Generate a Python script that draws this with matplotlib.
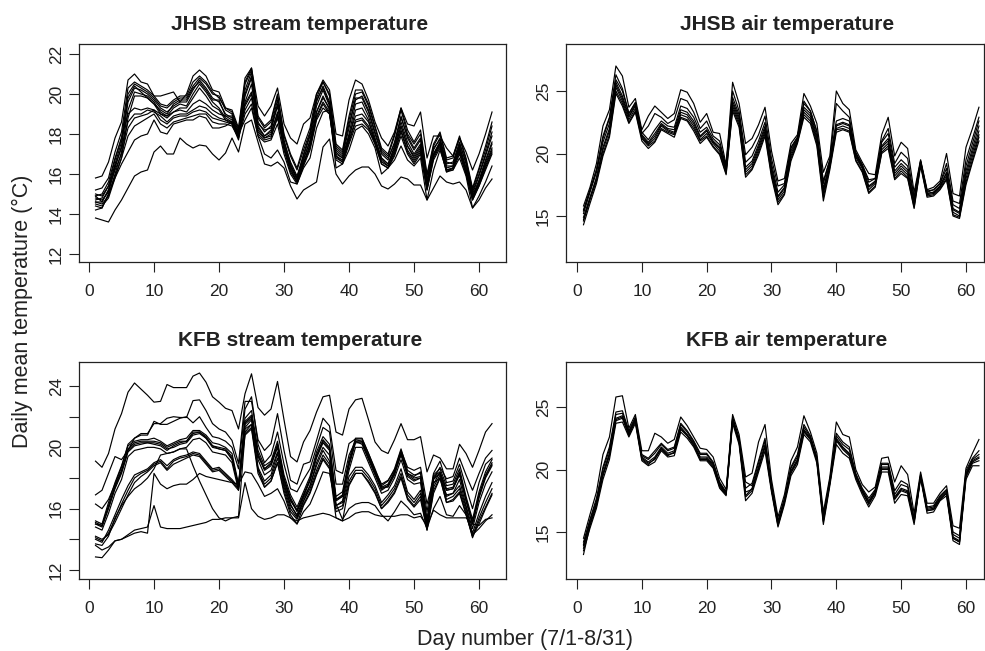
import numpy as np
import matplotlib
matplotlib.use('Agg')
import matplotlib.pyplot as plt

plt.rcParams['font.family'] = ['Liberation Sans', 'DejaVu Sans']

# ---- JHSB stream temperature (one list per site, days 1..62) ----
jhsb_s_top = [15.8, 15.9, 16.6, 17.8, 18.6, 20.7, 21.0, 20.6, 20.5, 19.9,
              19.9, 20.0, 20.1, 19.6, 20.0, 20.9, 21.2, 20.9, 20.2, 20.1,
              19.3, 19.2, 18.3, 20.8, 21.3, 19.4, 18.9, 19.4, 20.3, 18.5,
              17.8, 17.5, 18.5, 18.8, 20.0, 20.7, 20.2, 18.0, 17.9, 19.7,
              20.7, 20.5, 19.7, 18.6, 17.8, 17.4, 18.1, 19.3, 18.5, 18.4,
              19.1, 16.8, 17.9, 17.9, 17.3, 16.9, 17.8, 17.1, 16.2, 17.0,
              18.0, 19.1]
jhsb_s_u0 = [14.8, 14.7, 15.1, 16.3, 17.4, 19.6, 20.3, 20.2, 20.0, 19.7,
             19.3, 19.1, 19.4, 19.6, 19.6, 20.2, 20.7, 20.3, 19.8, 19.6,
             19.0, 18.8, 17.9, 20.2, 21.1, 18.6, 18.1, 18.4, 19.7, 17.6,
             16.6, 15.9, 16.9, 17.9, 19.6, 20.4, 19.6, 17.2, 16.9, 18.3,
             19.8, 19.8, 19.1, 18.0, 17.0, 16.7, 17.6, 18.9, 17.8, 17.2,
             17.7, 15.6, 17.2, 17.8, 16.5, 16.6, 17.6, 16.5, 15.0, 15.9,
             16.9, 17.9]
jhsb_s_u1 = [15.0, 14.9, 15.4, 16.7, 17.8, 20.0, 20.5, 20.3, 20.1, 19.8,
             19.4, 19.3, 19.6, 19.8, 19.8, 20.4, 20.8, 20.5, 20.0, 19.9,
             19.2, 19.0, 18.1, 20.5, 21.2, 18.8, 18.3, 18.6, 19.9, 17.9,
             16.9, 16.2, 17.2, 18.1, 19.8, 20.6, 19.9, 17.4, 17.1, 18.7,
             20.0, 20.1, 19.4, 18.3, 17.2, 16.9, 17.9, 19.2, 18.0, 17.5,
             18.0, 15.9, 17.4, 18.0, 16.7, 16.8, 17.8, 16.7, 15.2, 16.2,
             17.2, 18.4]
jhsb_s_u2 = [14.6, 14.5, 14.9, 16.0, 17.1, 19.2, 20.1, 20.0, 19.9, 19.6,
             19.1, 18.9, 19.3, 19.5, 19.4, 20.0, 20.5, 20.1, 19.6, 19.3,
             18.8, 18.6, 17.8, 19.9, 20.8, 18.4, 17.9, 18.2, 19.4, 17.4,
             16.4, 15.7, 16.7, 17.7, 19.4, 20.2, 19.4, 17.0, 16.8, 18.0,
             19.5, 19.6, 18.9, 17.8, 16.8, 16.5, 17.4, 18.6, 17.6, 17.0,
             17.5, 15.4, 17.0, 17.6, 16.3, 16.4, 17.4, 16.3, 14.9, 15.7,
             16.7, 17.6]
jhsb_s_u3 = [14.9, 14.6, 15.2, 16.5, 17.6, 19.8, 20.4, 20.1, 19.8, 19.5,
             19.2, 19.0, 19.5, 19.7, 19.7, 20.3, 20.6, 20.2, 19.7, 19.7,
             18.9, 18.9, 18.0, 20.0, 20.9, 18.5, 18.2, 18.3, 19.5, 17.7,
             16.5, 15.8, 17.0, 18.0, 19.7, 20.3, 19.5, 17.3, 17.0, 18.5,
             19.7, 19.9, 19.2, 18.1, 17.1, 16.8, 17.5, 18.8, 17.9, 17.3,
             17.8, 15.7, 17.3, 17.7, 16.6, 16.5, 17.5, 16.6, 15.1, 16.0,
             17.0, 18.1]
jhsb_s_u4 = [14.5, 14.4, 14.8, 15.8, 16.8, 18.8, 19.9, 19.9, 19.8, 19.5,
             19.0, 18.8, 19.1, 19.3, 19.3, 19.8, 20.3, 19.9, 19.4, 19.2,
             18.7, 18.5, 17.7, 19.6, 20.5, 18.2, 17.8, 18.0, 19.1, 17.3,
             16.3, 15.6, 16.5, 17.5, 19.1, 19.9, 19.2, 16.9, 16.6, 17.8,
             19.2, 19.3, 18.7, 17.6, 16.7, 16.4, 17.2, 18.4, 17.4, 16.8,
             17.3, 15.3, 16.9, 17.5, 16.2, 16.3, 17.3, 16.2, 14.8, 15.6,
             16.5, 17.3]
jhsb_s_u5 = [15.2, 15.3, 15.8, 17.1, 18.1, 20.3, 20.6, 20.4, 20.2, 19.9,
             19.5, 19.4, 19.7, 19.9, 19.9, 20.6, 20.9, 20.6, 20.1, 19.8,
             19.3, 19.1, 18.2, 20.6, 21.3, 18.9, 18.4, 18.7, 20.0, 18.0,
             17.0, 16.3, 17.4, 18.3, 20.0, 20.6, 20.0, 17.5, 17.2, 18.9,
             20.2, 20.2, 19.5, 18.4, 17.3, 17.0, 18.0, 19.3, 18.2, 17.6,
             18.2, 16.0, 17.5, 18.1, 16.8, 16.9, 17.9, 16.8, 15.3, 16.3,
             17.4, 18.6]
jhsb_s_b1 = [14.7, 14.8, 15.4, 16.4, 17.3, 18.6, 19.0, 19.0, 19.2, 19.1,
             18.9, 18.6, 18.9, 19.0, 19.0, 19.2, 19.4, 19.3, 19.0, 18.8,
             18.7, 18.6, 17.9, 19.2, 19.8, 18.1, 17.8, 17.9, 18.8, 17.3,
             16.2, 15.6, 16.6, 17.4, 18.9, 19.6, 19.1, 16.9, 16.7, 17.7,
             18.7, 18.8, 18.4, 17.6, 16.6, 16.4, 17.1, 18.2, 17.2, 16.7,
             17.2, 15.3, 16.9, 17.5, 16.2, 16.3, 17.2, 16.1, 14.8, 15.5,
             16.4, 17.2]
jhsb_s_b2 = [14.9, 15.0, 15.6, 16.8, 17.8, 19.0, 19.3, 19.2, 19.3, 19.2,
             19.0, 18.9, 19.1, 19.2, 19.1, 19.5, 19.7, 19.5, 19.2, 19.0,
             18.9, 18.7, 18.0, 19.5, 20.1, 18.3, 17.9, 18.1, 19.0, 17.5,
             16.4, 15.8, 16.8, 17.6, 19.1, 19.8, 19.3, 17.1, 16.8, 17.9,
             18.9, 19.0, 18.6, 17.7, 16.8, 16.5, 17.3, 18.4, 17.4, 16.9,
             17.4, 15.5, 17.0, 17.6, 16.4, 16.4, 17.3, 16.3, 14.9, 15.6,
             16.6, 17.5]
jhsb_s_b3 = [14.4, 14.3, 15.0, 15.9, 16.8, 17.9, 18.4, 18.6, 18.8, 19.0,
             18.5, 18.3, 18.6, 18.7, 18.8, 18.9, 19.0, 19.0, 18.6, 18.5,
             18.5, 18.4, 17.8, 19.0, 19.5, 17.9, 17.6, 17.7, 18.5, 17.0,
             16.0, 15.5, 16.4, 17.2, 18.7, 19.3, 19.0, 16.7, 16.5, 17.5,
             18.4, 18.5, 18.2, 17.5, 16.5, 16.3, 16.9, 17.9, 17.0, 16.5,
             17.0, 15.2, 16.7, 17.3, 16.1, 16.2, 17.0, 16.0, 14.7, 15.4,
             16.2, 17.0]
jhsb_s_b4 = [14.6, 14.6, 15.2, 16.2, 17.0, 18.3, 18.8, 18.9, 19.0, 19.2,
             18.7, 18.5, 18.8, 18.9, 18.9, 19.1, 19.2, 19.1, 18.8, 18.7,
             18.6, 18.5, 17.9, 19.4, 20.0, 18.0, 17.7, 17.8, 18.9, 17.2,
             16.1, 15.6, 16.5, 17.3, 18.8, 19.5, 19.0, 16.8, 16.6, 17.6,
             18.6, 18.7, 18.3, 17.5, 16.5, 16.3, 17.0, 18.1, 17.1, 16.6,
             17.1, 15.2, 16.8, 17.4, 16.1, 16.3, 17.1, 16.0, 14.7, 15.4,
             16.3, 17.1]
jhsb_s_low = [14.2, 14.3, 15.0, 15.8, 16.5, 17.1, 17.7, 17.9, 18.0, 18.7,
              18.1, 18.0, 18.5, 18.6, 18.7, 18.7, 18.9, 18.8, 18.3, 18.3,
              18.4, 18.6, 18.0, 18.7, 19.3, 17.9, 17.0, 16.8, 17.2, 16.6,
              15.6, 15.5, 16.3, 16.8, 18.3, 19.1, 19.2, 16.3, 16.5, 17.2,
              18.2, 18.4, 18.0, 17.3, 16.0, 16.3, 16.7, 17.4, 16.7, 16.4,
              16.8, 14.7, 16.2, 17.2, 16.2, 16.2, 16.8, 15.9, 14.3, 14.9,
              15.6, 16.4]
jhsb_s_min = [13.8, 13.7, 13.6, 14.2, 14.7, 15.3, 15.9, 16.1, 16.2, 17.1,
              17.4, 17.0, 17.0, 17.8, 17.5, 17.3, 17.45, 17.4, 17.0, 16.7,
              17.05, 17.8, 17.1, 18.5, 18.7, 17.6, 16.5, 16.4, 16.6, 16.3,
              15.4, 14.75, 15.2, 15.4, 15.6, 17.35, 17.75, 16.0, 15.5, 15.9,
              16.2, 16.35, 16.35, 16.0, 15.4, 15.25, 15.5, 15.85, 15.75, 15.45,
              15.45, 14.7, 15.3, 15.9, 15.6, 15.5, 15.6, 15.2, 14.3, 14.7,
              15.3, 15.75]

# ---- JHSB air temperature ----
jhsb_a_t1 = [15.8, 17.3, 19.2, 22.2, 23.5, 27.0, 26.2, 23.7, 24.4, 21.9,
             23.0, 23.8, 23.3, 22.8, 23.2, 25.1, 24.9, 24.0, 22.5, 23.2,
             21.7, 21.6, 19.1, 25.7, 24.0, 20.8, 21.2, 22.3, 23.7, 20.2,
             17.8, 18.0, 20.8, 21.5, 24.8, 23.8, 22.4, 18.5, 19.8, 25.0,
             24.0, 23.5, 20.3, 19.3, 18.4, 18.3, 21.5, 22.9, 19.8, 20.9,
             20.4, 16.9, 19.5, 17.1, 17.3, 17.8, 20.0, 16.8, 16.6, 20.5,
             22.0, 23.7]
jhsb_a_t2 = [15.4, 17.0, 18.7, 21.4, 22.9, 26.3, 25.2, 23.2, 24.0, 21.6,
             22.2, 23.2, 22.9, 22.4, 22.7, 24.4, 24.2, 23.3, 22.0, 22.6,
             21.4, 21.0, 18.9, 25.0, 23.4, 19.9, 20.5, 21.5, 23.0, 19.6,
             17.4, 17.6, 20.5, 21.3, 24.2, 23.4, 21.8, 17.8, 19.5, 24.0,
             23.4, 22.9, 20.0, 19.1, 17.9, 18.0, 21.0, 22.0, 19.2, 20.1,
             19.6, 16.5, 19.4, 16.9, 17.1, 17.6, 19.2, 16.2, 16.0, 19.5,
             21.2, 22.9]
jhsb_a_m0 = [14.9, 16.5, 18.0, 20.3, 21.8, 25.3, 24.2, 22.7, 23.6, 21.3,
             20.7, 21.2, 22.2, 21.8, 21.6, 23.1, 22.9, 22.2, 21.1, 21.6,
             20.8, 20.2, 18.6, 23.8, 22.5, 18.5, 19.0, 20.3, 21.8, 18.5,
             16.3, 17.0, 19.8, 21.0, 23.3, 22.8, 21.0, 16.8, 19.0, 22.0,
             22.2, 22.0, 19.7, 18.8, 17.1, 17.6, 20.3, 20.8, 18.2, 18.8,
             18.3, 15.9, 19.2, 16.7, 16.8, 17.3, 18.2, 15.3, 15.0, 18.0,
             19.8, 21.5]
jhsb_a_m1 = [15.2, 16.9, 18.5, 20.9, 22.4, 25.7, 24.6, 23.0, 23.9, 21.5,
             20.9, 21.6, 22.4, 22.0, 21.9, 23.5, 23.3, 22.6, 21.4, 21.9,
             21.0, 20.5, 18.8, 24.2, 22.9, 18.9, 19.4, 20.7, 22.2, 18.9,
             16.6, 17.3, 20.2, 21.2, 23.7, 23.2, 21.4, 17.2, 19.3, 22.3,
             22.5, 22.3, 19.9, 19.0, 17.4, 17.8, 20.6, 21.2, 18.6, 19.2,
             18.7, 16.2, 19.3, 16.8, 16.9, 17.4, 18.5, 15.6, 15.3, 18.6,
             20.4, 22.2]
jhsb_a_m2 = [14.3, 16.0, 17.6, 19.8, 21.3, 24.8, 23.8, 22.4, 23.3, 21.0,
             20.4, 20.9, 21.9, 21.6, 21.3, 22.8, 22.6, 21.8, 20.8, 21.3,
             20.5, 19.9, 18.3, 23.4, 22.1, 18.1, 18.7, 19.9, 21.4, 18.1,
             15.9, 16.7, 19.4, 20.8, 22.9, 22.4, 20.6, 16.2, 18.7, 21.7,
             21.9, 21.7, 19.4, 18.5, 16.8, 17.3, 20.0, 20.4, 17.9, 18.4,
             18.0, 15.6, 19.0, 16.5, 16.6, 17.1, 17.9, 15.0, 14.8, 17.5,
             19.3, 21.0]
jhsb_a_m3 = [14.6, 16.3, 17.8, 20.0, 21.5, 25.0, 24.0, 22.5, 23.4, 21.2,
             20.6, 21.0, 22.0, 21.7, 21.5, 22.9, 22.7, 22.0, 21.0, 21.4,
             20.6, 20.0, 18.4, 23.6, 22.3, 18.3, 18.8, 20.1, 21.6, 18.3,
             16.1, 16.8, 19.6, 20.9, 23.1, 22.6, 20.8, 16.5, 18.9, 21.9,
             22.0, 21.8, 19.5, 18.6, 16.9, 17.4, 20.1, 20.6, 18.0, 18.6,
             18.1, 15.7, 19.1, 16.6, 16.7, 17.2, 18.0, 15.1, 14.9, 17.7,
             19.5, 21.3]
jhsb_a_m4 = [15.5, 17.1, 18.7, 21.2, 22.8, 25.9, 25.0, 23.2, 24.1, 21.7,
             21.1, 21.9, 22.6, 22.2, 22.1, 23.8, 23.6, 22.9, 21.7, 22.1,
             21.2, 20.7, 19.0, 24.5, 23.1, 19.3, 19.8, 21.0, 22.5, 19.2,
             16.9, 17.5, 20.4, 21.3, 24.0, 23.4, 21.7, 17.6, 19.5, 22.6,
             22.8, 22.6, 20.1, 19.1, 17.7, 18.0, 20.9, 21.6, 18.9, 19.5,
             19.0, 16.5, 19.4, 17.0, 17.1, 17.6, 18.8, 15.9, 15.6, 19.0,
             20.8, 22.6]
jhsb_a_m5 = [14.7, 16.4, 18.1, 20.5, 22.0, 25.5, 24.4, 22.9, 23.8, 21.4,
             20.8, 21.4, 22.3, 21.9, 21.7, 23.3, 23.1, 22.4, 21.3, 21.8,
             20.9, 20.4, 18.7, 24.0, 22.7, 18.7, 19.2, 20.5, 22.0, 18.7,
             16.5, 17.2, 20.0, 21.1, 23.5, 23.0, 21.2, 17.0, 19.2, 22.2,
             22.4, 22.2, 19.8, 18.9, 17.3, 17.7, 20.5, 21.0, 18.4, 19.0,
             18.5, 16.0, 19.3, 16.8, 16.9, 17.4, 18.4, 15.5, 15.2, 18.3,
             20.1, 21.8]

# ---- KFB stream temperature ----
kfb_s_top = [19.1, 18.7, 19.6, 21.2, 22.2, 23.6, 24.2, 23.8, 23.4, 22.95,
             23.0, 24.1, 23.9, 23.9, 23.9, 24.65, 24.85, 24.25, 23.3, 22.95,
             22.55, 22.4, 21.2, 23.5, 24.8, 22.6, 22.1, 22.5, 24.3, 21.8,
             19.4, 19.05, 20.35, 21.1, 22.3, 23.3, 23.4, 21.0, 20.8, 22.5,
             23.1, 23.2, 21.8, 20.35, 19.8, 19.6, 20.5, 21.55, 20.5, 20.5,
             20.7, 18.4, 19.5, 19.3, 18.6, 18.6, 20.2, 19.6, 18.7, 19.8,
             21.0, 21.55]
kfb_s_2a = [16.9, 17.2, 18.3, 19.4, 19.2, 19.8, 20.6, 20.9, 20.9, 21.55,
            21.55, 21.9, 22.0, 21.95, 21.95, 23.05, 23.1, 22.4, 21.55, 21.2,
            21.0, 20.45, 18.95, 23.0, 23.0, 20.5, 19.8, 20.25, 22.2, 19.8,
            17.85, 17.6, 18.9, 19.05, 20.45, 21.9, 21.4, 18.5, 18.3, 20.25,
            20.55, 20.55, 19.6, 18.5, 17.6, 17.85, 18.5, 19.8, 18.7, 18.5,
            18.7, 16.3, 17.95, 18.7, 17.95, 18.1, 19.3, 18.2, 17.2, 18.3,
            19.3, 19.8]
kfb_s_2b = [16.3, 16.0, 16.6, 17.6, 18.7, 20.2, 20.6, 20.8, 20.8, 21.7,
            21.5, 21.5, 21.7, 21.9, 22.0, 21.6, 22.0, 21.3, 20.7, 20.6,
            20.4, 20.0, 18.6, 22.5, 23.3, 20.2, 19.0, 19.5, 21.0, 18.9,
            17.3, 17.1, 17.9, 18.6, 20.0, 21.3, 21.0, 17.6, 17.6, 19.5,
            20.4, 20.4, 19.4, 18.4, 17.4, 17.4, 18.2, 19.6, 18.3, 18.1,
            18.4, 15.8, 18.3, 19.1, 17.7, 17.8, 18.9, 17.4, 16.0, 17.7,
            18.9, 19.3]
kfb_s_u0 = [15.0, 14.8, 16.0, 17.3, 18.3, 19.7, 20.1, 20.2, 20.3, 20.3,
            20.2, 19.9, 20.0, 20.2, 20.3, 20.8, 20.9, 20.6, 20.0, 19.9,
            19.8, 19.3, 17.4, 21.5, 21.9, 19.5, 18.5, 18.8, 20.0, 17.9,
            16.6, 15.8, 16.8, 17.8, 19.3, 20.3, 19.8, 16.5, 16.8, 18.8,
            20.3, 20.3, 19.3, 18.3, 17.3, 17.5, 18.3, 19.5, 18.2, 17.9,
            18.0, 15.0, 18.0, 18.3, 17.2, 17.3, 18.2, 16.5, 15.0, 16.7,
            18.0, 18.8]
kfb_s_u1 = [15.2, 15.0, 16.4, 17.7, 18.8, 20.1, 20.4, 20.5, 20.5, 20.6,
            20.4, 20.1, 20.3, 20.5, 20.6, 21.1, 21.1, 20.8, 20.3, 20.2,
            20.0, 19.6, 17.6, 21.9, 22.4, 19.8, 18.8, 19.1, 20.4, 18.2,
            16.9, 16.1, 17.1, 18.1, 19.7, 20.7, 20.2, 16.8, 17.1, 19.2,
            20.6, 20.6, 19.6, 18.6, 17.5, 17.8, 18.6, 19.9, 18.5, 18.2,
            18.3, 15.3, 18.2, 18.6, 17.5, 17.6, 18.6, 16.8, 15.3, 17.1,
            18.4, 19.2]
kfb_s_u2 = [14.8, 14.6, 15.7, 17.0, 17.9, 19.4, 19.8, 19.9, 20.0, 20.0,
            19.9, 19.6, 19.7, 19.9, 20.0, 20.5, 20.6, 20.3, 19.7, 19.6,
            19.5, 19.0, 17.2, 21.2, 21.5, 19.2, 18.2, 18.5, 19.7, 17.6,
            16.3, 15.5, 16.5, 17.5, 19.0, 20.0, 19.5, 16.2, 16.5, 18.5,
            20.0, 20.0, 19.0, 18.0, 17.0, 17.2, 18.0, 19.2, 17.9, 17.6,
            17.7, 14.8, 17.7, 18.0, 16.9, 17.0, 17.9, 16.2, 14.7, 16.4,
            17.6, 18.4]
kfb_s_u3 = [15.1, 14.9, 16.2, 17.5, 18.5, 19.9, 20.3, 20.4, 20.4, 20.4,
            20.3, 20.0, 20.2, 20.4, 20.4, 21.0, 21.0, 20.7, 20.1, 20.0,
            19.9, 19.4, 17.5, 21.7, 22.1, 19.6, 18.6, 19.0, 20.2, 18.0,
            16.7, 15.9, 16.9, 17.9, 19.5, 20.5, 20.0, 16.6, 16.9, 19.0,
            20.5, 20.4, 19.4, 18.4, 17.4, 17.6, 18.4, 19.7, 18.3, 18.0,
            18.1, 15.1, 18.1, 18.4, 17.3, 17.4, 18.4, 16.6, 15.1, 16.9,
            18.2, 19.0]
kfb_s_u4 = [15.0, 14.9, 16.1, 17.4, 18.4, 19.8, 20.2, 20.3, 20.3, 20.2,
            20.1, 19.8, 20.1, 20.3, 20.4, 20.9, 21.0, 20.6, 20.1, 19.9,
            19.8, 19.2, 17.5, 21.6, 22.0, 19.4, 18.6, 18.9, 20.1, 17.8,
            16.5, 15.9, 16.9, 17.9, 19.4, 20.4, 19.9, 16.6, 16.8, 18.9,
            20.4, 20.2, 19.2, 18.2, 17.2, 17.5, 18.4, 19.6, 18.1, 17.8,
            18.0, 15.0, 17.9, 18.3, 17.2, 17.3, 18.3, 16.6, 15.0, 16.8,
            18.1, 18.9]
kfb_s_l0 = [14.1, 13.9, 14.4, 15.3, 16.3, 17.2, 18.0, 18.3, 18.5, 18.9,
            19.1, 18.6, 19.1, 19.3, 19.4, 19.6, 19.5, 19.0, 18.5, 18.6,
            18.2, 17.8, 17.3, 21.0, 21.5, 18.5, 17.6, 18.0, 19.3, 17.4,
            16.0, 15.4, 16.5, 17.3, 18.5, 19.5, 18.9, 16.0, 16.2, 17.8,
            18.5, 18.5, 18.0, 17.3, 16.2, 16.7, 17.3, 18.3, 16.9, 16.4,
            17.0, 14.8, 17.4, 18.2, 16.6, 16.8, 17.3, 15.9, 14.2, 15.4,
            16.4, 17.3]
kfb_s_l1 = [14.0, 13.8, 14.6, 15.6, 16.6, 17.5, 18.2, 18.4, 18.6, 19.0,
            19.2, 18.8, 19.2, 19.4, 19.5, 19.7, 19.6, 19.1, 18.6, 18.7,
            18.3, 17.9, 17.4, 21.3, 21.8, 18.7, 17.8, 18.2, 19.6, 17.6,
            16.2, 15.6, 16.7, 17.5, 18.8, 19.8, 19.1, 16.2, 16.4, 18.1,
            18.7, 18.7, 18.2, 17.5, 16.4, 16.9, 17.5, 18.6, 17.1, 16.6,
            17.2, 15.0, 17.6, 18.4, 16.8, 17.0, 17.5, 16.1, 14.4, 15.7,
            16.8, 17.7]
kfb_s_l2 = [14.2, 14.0, 14.3, 15.1, 16.0, 16.9, 17.7, 18.1, 18.4, 18.8,
            19.0, 18.5, 18.9, 19.1, 19.3, 19.5, 19.4, 18.9, 18.4, 18.5,
            18.1, 17.7, 17.2, 20.8, 21.2, 18.3, 17.4, 17.8, 19.0, 17.2,
            15.8, 15.3, 16.3, 17.1, 18.3, 19.3, 18.7, 15.8, 16.0, 17.6,
            18.3, 18.3, 17.8, 17.1, 16.0, 16.5, 17.1, 18.1, 16.7, 16.2,
            16.8, 14.6, 17.2, 18.0, 16.4, 16.6, 17.1, 15.7, 14.1, 15.2,
            16.1, 17.0]
kfb_s_drop = [13.7, 13.6, 14.2, 15.4, 16.2, 16.8, 17.3, 17.6, 18.0, 18.6,
              19.5, 19.6, 19.7, 19.9, 19.9, 18.8, 17.8, 16.9, 16.0, 15.4,
              15.2, 15.4, 15.5, 20.9, 21.3, 18.6, 17.4, 17.8, 19.0, 17.0,
              15.6, 15.0, 16.2, 17.0, 18.2, 19.2, 18.6, 15.4, 15.2, 17.5,
              18.3, 18.3, 17.7, 17.0, 16.0, 16.4, 17.0, 18.0, 16.6, 16.1,
              16.6, 14.6, 17.0, 18.0, 16.4, 16.5, 17.0, 15.6, 14.2, 15.0,
              16.0, 16.9]
kfb_s_jump = [13.6, 13.3, 13.5, 13.9, 14.0, 14.2, 14.4, 14.5, 14.4, 18.3,
              17.6, 17.3, 17.5, 17.6, 17.6, 17.9, 18.3, 18.1, 18.0, 17.9,
              17.8, 17.7, 17.6, 18.4, 18.3, 17.6, 16.8, 17.0, 17.3, 16.5,
              15.4, 15.0, 15.8, 16.3, 17.3, 18.4, 18.3, 16.3, 15.3, 16.0,
              16.3, 16.4, 16.4, 16.2, 15.6, 15.2, 15.8, 16.5, 16.1, 15.6,
              15.7, 14.7, 16.0, 16.8, 15.6, 15.5, 16.2, 15.6, 14.3, 14.7,
              15.2, 15.6]
kfb_s_flat = [12.85, 12.8, 13.3, 13.9, 14.0, 14.3, 14.6, 14.7, 14.8, 16.2,
              14.8, 14.7, 14.7, 14.7, 14.8, 14.9, 15.0, 15.1, 15.3, 15.3,
              15.4, 15.4, 15.4, 17.7, 16.0, 15.5, 15.3, 15.4, 15.6, 15.6,
              15.4, 15.2, 15.4, 15.5, 15.6, 15.7, 15.6, 15.4, 15.2, 15.4,
              15.7, 15.8, 15.8, 15.6, 15.5, 15.5, 15.5, 15.6, 15.6, 15.4,
              15.5, 14.9, 15.9, 15.6, 15.4, 15.4, 15.4, 15.4, 15.0, 14.9,
              15.3, 15.4]

# ---- KFB air temperature ----
kfb_a_t1 = [14.5, 16.4, 18.2, 21.2, 22.6, 25.8, 25.9, 23.3, 24.4, 21.5,
            21.5, 22.9, 22.6, 22.1, 22.4, 24.2, 23.5, 22.6, 21.7, 21.6,
            21.0, 19.3, 18.4, 24.4, 22.8, 19.4, 19.7, 22.2, 23.6, 19.2,
            16.2, 18.0, 20.7, 21.8, 24.3, 23.0, 21.3, 16.6, 19.4, 23.8,
            22.8, 22.6, 20.0, 18.8, 18.2, 18.6, 20.9, 21.0, 19.0, 20.3,
            19.6, 16.5, 19.8, 17.3, 17.3, 18.1, 18.7, 15.5, 15.3, 20.1,
            21.3, 22.4]
kfb_a_m0 = [13.9, 15.7, 17.3, 19.7, 21.3, 24.1, 24.3, 22.9, 24.0, 21.0,
            20.6, 21.0, 21.8, 21.3, 21.5, 23.4, 22.8, 22.1, 21.0, 21.0,
            20.4, 18.8, 18.1, 24.0, 22.3, 17.9, 18.5, 20.2, 22.0, 18.5,
            15.7, 17.5, 19.9, 20.8, 23.2, 22.5, 20.8, 16.0, 19.0, 22.5,
            21.8, 21.3, 19.5, 18.3, 17.4, 18.2, 20.2, 20.2, 17.8, 18.5,
            18.3, 15.9, 19.5, 16.8, 16.9, 17.7, 18.2, 14.6, 14.3, 19.6,
            20.7, 21.0]
kfb_a_m1 = [14.2, 16.0, 17.7, 20.2, 21.8, 24.6, 24.7, 23.1, 24.2, 21.2,
            20.9, 21.5, 22.1, 21.6, 21.8, 23.7, 23.1, 22.3, 21.3, 21.3,
            20.6, 19.0, 18.2, 24.2, 22.5, 18.5, 18.9, 20.7, 22.5, 18.8,
            15.9, 17.7, 20.2, 21.2, 23.6, 22.7, 21.0, 16.2, 19.2, 22.9,
            22.2, 21.8, 19.7, 18.5, 17.7, 18.4, 20.5, 20.5, 18.3, 19.1,
            18.8, 16.1, 19.6, 17.0, 17.1, 17.9, 18.4, 15.0, 14.7, 19.9,
            20.9, 21.5]
kfb_a_m2 = [13.5, 15.3, 16.9, 19.2, 20.8, 23.7, 23.8, 22.6, 23.7, 20.7,
            20.3, 20.6, 21.5, 21.0, 21.1, 23.0, 22.5, 21.8, 20.7, 20.7,
            20.1, 18.5, 17.9, 23.7, 22.0, 17.5, 18.1, 19.8, 21.5, 18.2,
            15.4, 17.2, 19.5, 20.4, 22.8, 22.2, 20.5, 15.6, 18.7, 22.0,
            21.3, 20.9, 19.2, 18.0, 17.0, 17.9, 19.8, 19.8, 17.3, 18.0,
            17.9, 15.6, 19.3, 16.5, 16.6, 17.5, 17.9, 14.3, 14.0, 19.2,
            20.3, 20.3]
kfb_a_m3 = [13.2, 15.5, 17.1, 19.5, 21.1, 23.9, 24.1, 22.7, 23.9, 20.9,
            20.5, 20.8, 21.7, 21.2, 21.3, 23.2, 22.7, 21.9, 20.9, 20.9,
            20.3, 18.6, 18.0, 23.9, 22.2, 17.8, 18.3, 20.0, 21.8, 18.4,
            15.5, 17.4, 19.7, 20.6, 23.0, 22.4, 20.7, 15.8, 18.9, 22.3,
            21.6, 21.1, 19.4, 18.2, 17.2, 18.1, 20.0, 20.0, 17.6, 18.3,
            18.1, 15.8, 19.4, 16.7, 16.8, 17.6, 18.1, 14.5, 14.2, 19.4,
            20.5, 20.7]
kfb_a_m4 = [14.0, 15.9, 17.5, 20.0, 21.6, 24.4, 24.5, 23.0, 24.1, 21.1,
            20.8, 21.3, 22.0, 21.5, 21.7, 23.6, 23.0, 22.2, 21.2, 21.2,
            20.5, 18.9, 18.1, 24.1, 22.4, 19.0, 18.7, 20.5, 22.3, 18.7,
            15.8, 17.6, 20.1, 21.0, 23.4, 22.6, 20.9, 16.1, 19.1, 22.7,
            22.0, 21.6, 19.6, 18.4, 17.5, 18.3, 20.4, 20.4, 18.0, 18.8,
            18.6, 16.0, 19.5, 16.9, 17.0, 17.8, 18.3, 14.8, 14.5, 19.7,
            20.8, 21.2]
kfb_a_m5 = [13.7, 15.6, 17.2, 19.6, 21.2, 24.0, 24.2, 22.8, 23.9, 20.8,
            20.4, 20.9, 21.6, 21.1, 21.4, 23.3, 22.7, 22.0, 20.8, 20.8,
            20.2, 18.7, 18.0, 24.0, 22.2, 18.2, 18.4, 20.1, 21.9, 18.4,
            15.6, 17.4, 19.8, 20.7, 23.1, 22.4, 20.7, 15.9, 18.9, 22.4,
            21.7, 21.2, 19.4, 18.2, 17.3, 18.1, 20.1, 20.1, 17.7, 18.4,
            18.2, 15.8, 19.4, 16.7, 16.8, 17.6, 18.1, 14.5, 14.2, 19.5,
            20.6, 20.9]

jhsb_stream = [jhsb_s_top, jhsb_s_u0, jhsb_s_u1, jhsb_s_u2, jhsb_s_u3, jhsb_s_u4,
               jhsb_s_u5, jhsb_s_b1, jhsb_s_b2, jhsb_s_b3, jhsb_s_b4,
               jhsb_s_low, jhsb_s_min]
jhsb_air = [jhsb_a_t1, jhsb_a_t2, jhsb_a_m0, jhsb_a_m1, jhsb_a_m2, jhsb_a_m3,
            jhsb_a_m4, jhsb_a_m5]
kfb_stream = [kfb_s_top, kfb_s_2a, kfb_s_2b, kfb_s_u0, kfb_s_u1, kfb_s_u2, kfb_s_u3,
              kfb_s_u4, kfb_s_l0, kfb_s_l1, kfb_s_l2, kfb_s_drop, kfb_s_jump,
              kfb_s_flat]
kfb_air = [kfb_a_t1, kfb_a_m0, kfb_a_m1, kfb_a_m2, kfb_a_m3, kfb_a_m4, kfb_a_m5]

titles = ['JHSB stream temperature', 'JHSB air temperature',
          'KFB stream temperature', 'KFB air temperature']
xticks = [0, 10, 20, 30, 40, 50, 60]

W, H = 985, 651
fig = plt.figure(figsize=(W / 100, H / 100), dpi=100)


def px_axes(x0, y0, x1, y1):
    return fig.add_axes([x0 / W, 1 - y1 / H, (x1 - x0) / W, (y1 - y0) / H])


# box in pixels, xlim, ylim, yticks, ytick labels, title centre x, title baseline y
layout = [
    (jhsb_stream, (79, 44, 506, 262), (-1.54, 64.15), (11.6, 22.5),
     [12, 14, 16, 18, 20, 22], None, 300, 30),
    (jhsb_air, (566, 44, 984, 262), (-1.7, 62.78), (11.32, 28.76),
     [15, 20, 25], None, 787, 30),
    (kfb_stream, (79, 362, 506, 579), (-1.54, 64.15), (11.41, 25.57),
     [12, 14, 16, 18, 20, 22, 24], ['12', '', '16', '', '20', '', '24'], 300, 346.5),
    (kfb_air, (566, 362, 984, 579), (-1.7, 62.78), (11.24, 28.6),
     [15, 20, 25], None, 787, 346.5),
]

for (lines, box, xl, yl, yt, ytl, tx, ty), title in zip(layout, titles):
    ax = px_axes(*box)
    for s in lines:
        ax.plot(np.arange(1, len(s) + 1), s, color='black', lw=0.85)
    ax.set_xlim(*xl)
    ax.set_ylim(*yl)
    ax.set_xticks(xticks)
    ax.set_yticks(yt)
    if ytl is not None:
        ax.set_yticklabels(ytl)
    for sp in ax.spines.values():
        sp.set_linewidth(0.9)
        sp.set_color('#222222')
    ax.tick_params(direction='out', length=7.5, width=0.8, labelsize=12.5,
                   colors='#222222')
    ax.tick_params(axis='x', pad=8.5)
    ax.tick_params(axis='y', pad=3.5)
    for lab in ax.get_yticklabels():
        lab.set_rotation(90)
        lab.set_va('center')
    fig.text(tx / W, 1 - ty / H, title, ha='center', va='baseline',
             fontsize=15, fontweight='bold', color='#222222')

fig.text(22 / W, 1 - 311 / H, 'Daily mean temperature (°C)', rotation=90,
         ha='center', va='center', fontsize=15.5, color='#222222')
fig.text(525 / W, 1 - 645 / H, 'Day number (7/1-8/31)', ha='center',
         va='baseline', fontsize=15.5, color='#222222')

fig.savefig('out.png', dpi=100)
